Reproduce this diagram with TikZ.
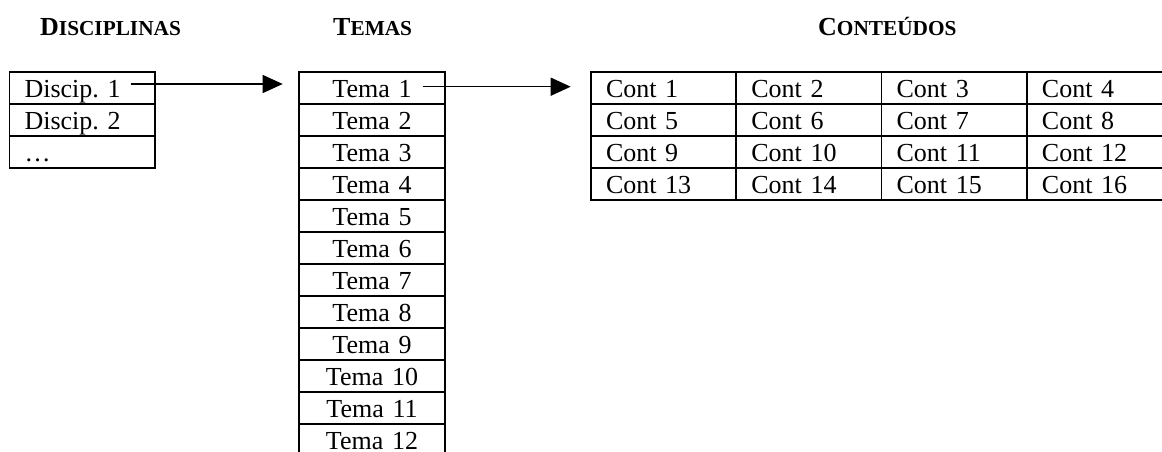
\documentclass[tikz,border=0pt]{standalone}
\usepackage{fontspec}
\setmainfont{Liberation Serif}
\usepackage{tikz}
\usetikzlibrary{positioning, arrows.meta}

\newcommand{\capsc}[2]{{\bfseries\fontsize{26}{30}\selectfont #1\fontsize{21.3}{24}\selectfont #2}}

\begin{document}
\begin{tikzpicture}[x=1pt,y=-1pt,
  font=\fontsize{26}{30}\selectfont\frenchspacing,
  cell/.style={draw,line width=1.7pt,outer sep=0pt,inner xsep=15pt,inner ysep=0pt,
    minimum height=32pt,text height=18pt,text depth=0pt},
  dcell/.style={cell,text width=115.5pt,align=left},
  tcell/.style={cell,text width=116pt,align=center},
  ccell/.style={cell,text width=115.3pt,align=left},
  head/.style={anchor=base west,inner sep=0pt},
  link/.style={line width=1.4pt,-{Triangle[length=20pt,width=18pt]}}]

\useasboundingbox (0,0) rectangle (1162,451);
\clip (0,0) rectangle (1162,451);

\node[head] (hdisc) at (40,35) {\capsc{D}{ISCIPLINAS}};
\node[head] (htema) at (333,35) {\capsc{T}{EMAS}};
\node[head] (hcont) at (818,35) {\capsc{C}{ONTEÚDOS}};

\node[dcell] (d1) at (82.25,88) {Discip. 1};
\node[dcell,below=0pt of d1] (d2) {Discip. 2};
\node[dcell,below=0pt of d2] (d3) {…};

\node[tcell] (t1) at (372,88) {Tema 1};
\foreach \i [remember=\i as \j (initially 1)] in {2,...,12}
  \node[tcell,below=0pt of t\j] (t\i) {Tema \i};

\node[ccell] (c1) at (663.65,88) {Cont 1};
\foreach \i in {2,...,16}{
  \pgfmathtruncatemacro{\prev}{\i-1}
  \pgfmathtruncatemacro{\up}{\i-4}
  \pgfmathtruncatemacro{\col}{mod(\i-1,4)}
  \ifnum\col=0
    \node[ccell,below=0pt of c\up] (c\i) {Cont \i};
  \else
    \node[ccell,right=0pt of c\prev] (c\i) {Cont \i};
  \fi
}

\draw[link,shorten >=16.3pt] ([xshift=-24.3pt,yshift=4pt]d1.east) -- ([yshift=4pt]t1.west);
\draw[link,shorten >=20.3pt] ([xshift=-22.3pt,yshift=1.3pt]t1.east) -- ([yshift=1.3pt]c1.west);

\end{tikzpicture}
\end{document}
